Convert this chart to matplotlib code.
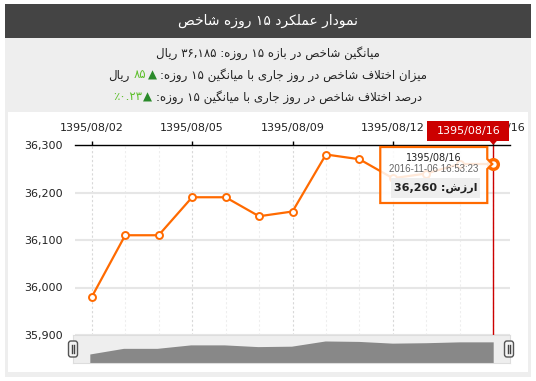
import re
import matplotlib
matplotlib.use("Agg")
import matplotlib.pyplot as plt
from matplotlib.patches import Rectangle, FancyBboxPatch, Polygon

# data
dates = ["1395/08/02", "1395/08/03", "1395/08/04", "1395/08/05", "1395/08/06",
         "1395/08/08", "1395/08/09", "1395/08/10", "1395/08/11", "1395/08/12",
         "1395/08/13", "1395/08/15", "1395/08/16"]
values = [35980, 36110, 36110, 36190, 36190, 36150, 36160,
          36280, 36270, 36230, 36240, 36260, 36260]
label_idx = [0, 3, 6, 9, 12]
y_ticks = [35900, 36000, 36100, 36200, 36300]

title = "نمودار عملکرد ۱۵ روزه شاخص"
line1 = "میانگین شاخص در بازه ۱۵ روزه: ۳۶,۱۸۵ ریال"
line2_text = "میزان اختلاف شاخص در روز جاری با میانگین ۱۵ روزه:"
line2_value = "۸۵"
line3_text = "درصد اختلاف شاخص در روز جاری با میانگین ۱۵ روزه:"
line3_value = "٪۰.۲۳"
unit = "ریال"
hover_time = "2016-11-06 16:53:23"
value_label = "ارزش:"

W, H = 536, 381
ORANGE = "#ff6a00"
RED = "#cc0000"
DARK_GREEN = "#2a8a2a"
GREEN = "#5cbf2a"
TEXT = "#222222"

# matplotlib has no arabic shaping, so use presentation forms + simple bidi
FORMS = {
    "ا": ("\uFE8D", "\uFE8E", None, None),
    "ب": ("\uFE8F", "\uFE90", "\uFE91", "\uFE92"),
    "ت": ("\uFE95", "\uFE96", "\uFE97", "\uFE98"),
    "ج": ("\uFE9D", "\uFE9E", "\uFE9F", "\uFEA0"),
    "خ": ("\uFEA5", "\uFEA6", "\uFEA7", "\uFEA8"),
    "د": ("\uFEA9", "\uFEAA", None, None),
    "ر": ("\uFEAD", "\uFEAE", None, None),
    "ز": ("\uFEAF", "\uFEB0", None, None),
    "ش": ("\uFEB5", "\uFEB6", "\uFEB7", "\uFEB8"),
    "ص": ("\uFEB9", "\uFEBA", "\uFEBB", "\uFEBC"),
    "ع": ("\uFEC9", "\uFECA", "\uFECB", "\uFECC"),
    "ف": ("\uFED1", "\uFED2", "\uFED3", "\uFED4"),
    "ل": ("\uFEDD", "\uFEDE", "\uFEDF", "\uFEE0"),
    "م": ("\uFEE1", "\uFEE2", "\uFEE3", "\uFEE4"),
    "ن": ("\uFEE5", "\uFEE6", "\uFEE7", "\uFEE8"),
    "ه": ("\uFEE9", "\uFEEA", "\uFEEB", "\uFEEC"),
    "و": ("\uFEED", "\uFEEE", None, None),
    "ک": ("\uFB8E", "\uFB8F", "\uFB90", "\uFB91"),
    "گ": ("\uFB92", "\uFB93", "\uFB94", "\uFB95"),
    "ی": ("\uFBFC", "\uFBFD", "\uFBFE", "\uFBFF"),
}


def joins_next(c):
    return c in FORMS and FORMS[c][2] is not None


def shape(s):
    out = []
    i = 0
    while i < len(s):
        c = s[i]
        if c not in FORMS:
            out.append(c)
            i += 1
            continue
        from_prev = i > 0 and joins_next(s[i - 1])
        if c == "ل" and i + 1 < len(s) and s[i + 1] == "ا":
            out.append("\uFEFC" if from_prev else "\uFEFB")
            i += 2
            continue
        to_next = joins_next(c) and i + 1 < len(s) and s[i + 1] in FORMS
        iso, fin, ini, med = FORMS[c]
        if from_prev and to_next:
            out.append(med)
        elif from_prev:
            out.append(fin)
        elif to_next:
            out.append(ini)
        else:
            out.append(iso)
        i += 1
    return "".join(out)


def visual(s):
    s = shape(s)
    tokens = re.findall(r"[٪%]?[0-9۰-۹][0-9۰-۹,./]*|[^0-9۰-۹٪%]+|[٪%]", s)
    tokens = [t if re.match(r"[٪%]?[0-9۰-۹]", t) else t[::-1] for t in tokens]
    return "".join(tokens[::-1])


fig = plt.figure(figsize=(W / 100, H / 100), dpi=100)
renderer = fig.canvas.get_renderer()


def fr(x0, y0, x1, y1):
    return [x0 / W, 1 - y1 / H, (x1 - x0) / W, (y1 - y0) / H]


def pixel_axes(z):
    a = fig.add_axes([0, 0, 1, 1], zorder=z)
    a.set_xlim(0, W)
    a.set_ylim(H, 0)
    a.axis("off")
    a.patch.set_visible(False)
    return a


bg = pixel_axes(0)
bg.add_patch(Rectangle((5, 4), 526, 373, color="#eeeeee", lw=0))
bg.add_patch(Rectangle((5, 4), 526, 34, color="#444444", lw=0))
bg.add_patch(Rectangle((8, 112), 520, 260, color="white", lw=0))

bg.text(W / 2, 21, visual(title), color="white", fontsize=10,
        ha="center", va="center")


def draw_line(pieces, gaps, y, size=8.5):
    # pieces in visual order, left to right
    objs = [bg.text(0, y, visual(t), color=c, fontsize=size, ha="left", va="center")
            for t, c in pieces]
    widths = [o.get_window_extent(renderer).width for o in objs]
    x = W / 2 - (sum(widths) + sum(gaps)) / 2
    for k, o in enumerate(objs):
        o.set_x(x)
        x += widths[k] + (gaps[k] if k < len(gaps) else 0)


draw_line([(line1, TEXT)], [], 53)
draw_line([(unit, TEXT), (line2_value, GREEN), ("▲", DARK_GREEN), (line2_text, TEXT)],
          [4, 1, 4], 75)
draw_line([(line3_value, GREEN), ("▲", DARK_GREEN), (line3_text, TEXT)],
          [1, 4], 97)

# main chart
x = list(range(len(values)))
ax = fig.add_axes(fr(75, 145, 510, 335), zorder=1)
ax.patch.set_visible(False)
ax.plot(x, values, color=ORANGE, lw=1.6, marker="o", ms=5,
        mfc="white", mec=ORANGE, mew=1.4, zorder=3)
ax.plot(x[-1], values[-1], "o", ms=7, mfc="white", mec=ORANGE, mew=2.4, zorder=4)
ax.axvline(x[-1], color=RED, lw=1, zorder=2)

ax.set_xlim(-0.5, len(values) - 0.5)
ax.set_ylim(y_ticks[0], y_ticks[-1])
ax.set_xticks(label_idx)
ax.set_xticklabels([dates[i] for i in label_idx])
ax.set_xticks(x, minor=True)
ax.set_yticks(y_ticks)
ax.set_yticklabels([f"{v:,}" for v in y_ticks])
ax.xaxis.tick_top()
ax.tick_params(axis="x", which="major", length=3, width=1, color="black",
               pad=6, labelsize=8, labelcolor=TEXT)
ax.tick_params(axis="x", which="minor", length=0)
ax.tick_params(axis="y", length=0, pad=9, labelsize=8, labelcolor=TEXT)
ax.set_axisbelow(True)
ax.grid(axis="y", color="#e6e6e6", lw=1.5)
ax.grid(axis="x", which="major", color="#d8d8d8", lw=0.8, ls=(0, (2, 2)))
ax.grid(axis="x", which="minor", color="#eeeeee", lw=0.8, ls=(0, (2, 2)))
for side in ["left", "right", "bottom"]:
    ax.spines[side].set_visible(False)
ax.spines["top"].set_color("black")
ax.spines["top"].set_linewidth(1)

# scrollbar preview
sc = fig.add_axes(fr(73, 335, 510, 363), zorder=2)
sc.set_facecolor("#eeeeee")
sc.fill_between(x, values, 35772, color="#888888", lw=0)
sc.set_xlim(-0.5, len(values) - 0.5)
sc.set_ylim(35772, 36418)
sc.set_xticks([])
sc.set_yticks([])
for s in sc.spines.values():
    s.set_color("#dddddd")

fg = pixel_axes(5)
for hx in [73, 509]:
    fg.add_patch(FancyBboxPatch((hx - 4.5, 341), 9, 16,
                                boxstyle="round,pad=0,rounding_size=2.5",
                                fc="#f4f4f4", ec="#555555", lw=1))
    fg.plot([hx - 1.2, hx - 1.2], [345, 353], color="#444444", lw=1)
    fg.plot([hx + 1.2, hx + 1.2], [345, 353], color="#444444", lw=1)

# hover tooltip anchored on last point
px, py = ax.transData.transform((x[-1], values[-1]))
py = H - py
L, R, T, B = px - 113, px - 6, py - 17, py + 39
fg.add_patch(Polygon([(L, T), (R, T), (R, py - 5), (R + 5, py), (R, py + 5), (R, B), (L, B)],
                     closed=True, fc=(1, 1, 1, 0.85), ec=ORANGE, lw=1.6))
cx = (L + R) / 2
fg.text(cx, T + 11, dates[-1], fontsize=7, color=TEXT, ha="center", va="center")
fg.text(cx, T + 22, hover_time, fontsize=7, color="#666666", ha="center", va="center",
        family="Liberation Sans")
fg.add_patch(Rectangle((L + 11, T + 31), 89, 20, color="#eeeeee", lw=0))
fg.text(L + 55.5, T + 41, visual(value_label + " " + f"{values[-1]:,}"), fontsize=8,
        fontweight="bold", color=TEXT, ha="center", va="center")

# cursor date label
fg.add_patch(Rectangle((px - 66, 121), 82, 20, color=RED, lw=0))
fg.add_patch(Polygon([(px - 4, 140.5), (px + 4, 140.5), (px, 145)], closed=True,
                     color=RED, lw=0))
fg.text(px - 25, 131, dates[-1], fontsize=8, color="white", ha="center", va="center")

fig.savefig("out.png", dpi=100)
